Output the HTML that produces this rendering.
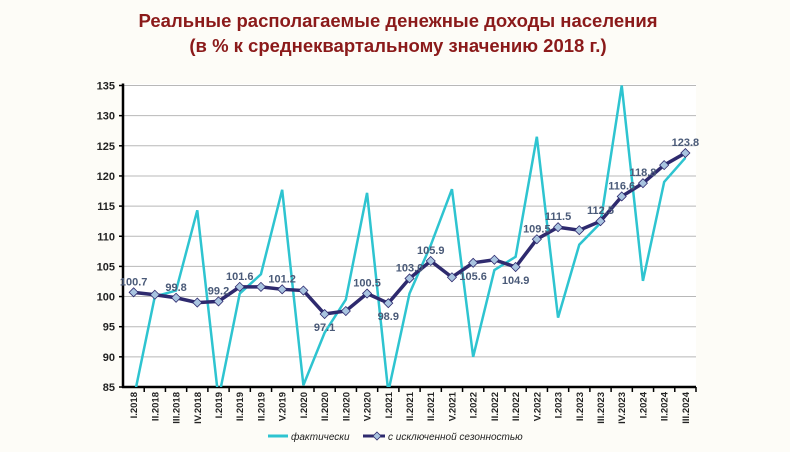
<!DOCTYPE html>
<html><head><meta charset="utf-8">
<style>
body{margin:0;background:#fdfcf7;}
svg{display:block;font-family:"Liberation Sans",sans-serif;}
</style></head>
<body>
<svg id="chart" width="790" height="452" viewBox="0 0 790 452">
<rect x="0" y="0" width="790" height="452" fill="#fdfcf7"/>
<text x="398" y="27" text-anchor="middle" font-size="18.5" font-weight="bold" fill="#8b1a1a">Реальные располагаемые денежные доходы населения</text>
<text x="398" y="52" text-anchor="middle" font-size="18.5" font-weight="bold" fill="#8b1a1a">(в % к среднеквартальному значению 2018 г.)</text>
<rect x="123" y="84" width="573" height="303" fill="#ffffff"/>
<defs><clipPath id="pc"><rect x="123" y="80" width="575" height="307"/></clipPath></defs>
<g id="grid"></g>
<g id="axes"></g>
<g id="series" clip-path="url(#pc)"></g>
<g id="labels"></g>
<g>
<line x1="268" y1="436" x2="288" y2="436" stroke="#2ec4d0" stroke-width="3"/>
<text x="291" y="440" font-size="10" font-style="italic" fill="#222">фактически</text>
<line x1="363" y1="436" x2="385" y2="436" stroke="#2e2a6e" stroke-width="3"/>
<path d="M377,432 L381,436 L377,440 L373,436Z" fill="#a9c4e0" stroke="#2e2a6e" stroke-width="0.8"/>
<text x="388" y="440" font-size="10" font-style="italic" fill="#222">с исключенной сезонностью</text>
</g>
</svg>
<script>
const categories=["I.2018","II.2018","III.2018","IV.2018","I.2019","II.2019","II.2019","V.2019","I.2020","II.2020","II.2020","V.2020","I.2021","II.2021","II.2021","V.2021","I.2022","II.2022","II.2022","V.2022","I.2023","II.2023","III.2023","IV.2023","I.2024","II.2024","III.2024"];
const actual=[83,100.0,101.0,114.3,83,100.5,103.7,117.7,85.3,94.0,99.5,117.2,84.2,100.5,108.5,117.8,90.0,104.4,106.6,126.5,96.5,108.6,112.2,135.0,102.6,119.0,123.0];
const seasonal=[100.7,100.3,99.8,99.0,99.2,101.6,101.6,101.2,101.0,97.1,97.6,100.5,98.9,103.0,105.9,103.2,105.6,106.1,104.9,109.5,111.5,111.0,112.5,116.6,118.8,121.8,123.8];
const labelIdx=[0,2,4,5,7,9,11,12,13,14,16,18,19,20,22,23,24,26];
const labelText=["100.7","99.8","99.2","101.6","101.2","97.1","100.5","98.9","103.0","105.9","105.6","104.9","109.5","111.5","112.5","116.6","118.8","123.8"];
const labelBelow=[0,0,0,0,0,1,0,1,0,0,1,1,0,0,0,0,0,0];
const yTicks=[85,90,95,100,105,110,115,120,125,130,135];

const NS="http://www.w3.org/2000/svg";
const X0=123,X1=696,Y0=387,Y1=85.5,YMIN=85,YMAX=135;
const bw=(X1-X0)/categories.length;
const xs=i=>X0+bw*(i+0.5);
const ys=v=>Y0-(v-YMIN)/(YMAX-YMIN)*(Y0-Y1);
function mk(tag,attrs,parent){const e=document.createElementNS(NS,tag);for(const k in attrs)e.setAttribute(k,attrs[k]);parent.appendChild(e);return e;}
const grid=document.getElementById('grid'),axes=document.getElementById('axes'),ser=document.getElementById('series'),lab=document.getElementById('labels');
yTicks.forEach(t=>{
  if(t>YMIN){const l=mk('line',{x1:X0,x2:X1,y1:ys(t),y2:ys(t),stroke:'#b8b8b8','stroke-width':1},grid);
  
  }
  const tk=mk('line',{x1:X0-4,x2:X0,y1:ys(t),y2:ys(t),stroke:'#000','stroke-width':1.5},axes);
  
  
  const tx=mk('text',{x:X0-8,y:ys(t)+4,'text-anchor':'end','font-size':11,'font-weight':'bold',fill:'#222'},axes);
  tx.textContent=t;
  
  
});
const ya=mk('line',{x1:X0,x2:X0,y1:Y1-2,y2:Y0+1,stroke:'#000','stroke-width':2.5},axes);


const xa=mk('line',{x1:X0-1,x2:X1,y1:Y0,y2:Y0,stroke:'#000','stroke-width':2.5},axes);


categories.forEach((c,i)=>{
  const tk=mk('line',{x1:X0+bw*(i+1),x2:X0+bw*(i+1),y1:Y0,y2:Y0+5,stroke:'#000','stroke-width':1.5},axes);
  
  
  const x=xs(i)+3.5;
  const t=mk('text',{x:x,y:392,'text-anchor':'end','font-size':9.5,'font-weight':'bold',fill:'#222',transform:`rotate(-90 ${x} 392)`},axes);
  t.textContent=c;
  
  
});
const pa=mk('polyline',{points:actual.map((v,i)=>xs(i)+','+ys(v)).join(' '),fill:'none',stroke:'#2ec4d0','stroke-width':2.5,'stroke-linejoin':'miter'},ser);


const ps=mk('polyline',{points:seasonal.map((v,i)=>xs(i)+','+ys(v)).join(' '),fill:'none',stroke:'#2e2a6e','stroke-width':3.5},ser);


seasonal.forEach((v,i)=>{
  const x=xs(i),y=ys(v);
  const m=mk('path',{d:`M${x},${y-4.5} L${x+4.5},${y} L${x},${y+4.5} L${x-4.5},${y}Z`,fill:'#a9c4e0',stroke:'#2e2a6e','stroke-width':0.8},ser);
  
  
});
labelIdx.forEach((idx,k)=>{
  const x=xs(idx),y=ys(seasonal[idx]);
  const t=mk('text',{x:x,y:labelBelow[k]?y+17:y-7,'text-anchor':'middle','font-size':11,'font-weight':'bold',fill:'#4a5a78'},lab);
  t.textContent=labelText[k];
  
  
});
</script>
</body></html>
